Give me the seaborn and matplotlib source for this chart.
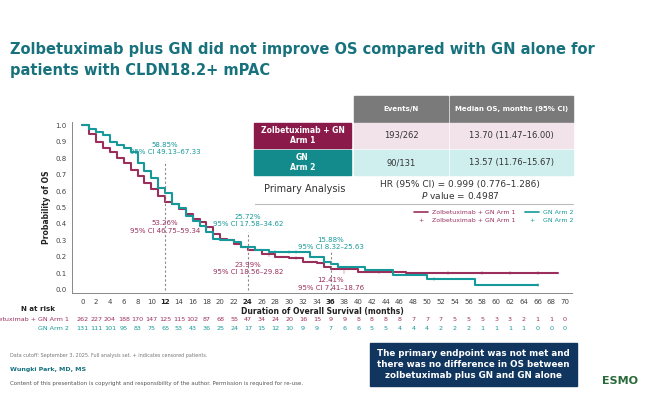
import matplotlib
matplotlib.use("Agg")
import matplotlib.pyplot as plt
import seaborn as sns
import pandas as pd
from matplotlib.patches import Rectangle
from matplotlib.lines import Line2D
import matplotlib.transforms as mtransforms

# data
arm1_t = [0, 1, 2, 3, 4, 5, 6, 7, 8, 9, 10, 11, 12, 13, 14, 15, 16, 17, 18, 19, 20, 21, 22, 23, 24,
          26, 28, 30, 32, 34, 35, 36, 40, 47, 69]
arm1_s = [1.0, 0.95, 0.90, 0.86, 0.84, 0.80, 0.77, 0.73, 0.69, 0.65, 0.61, 0.57, 0.533, 0.52, 0.49,
          0.46, 0.43, 0.41, 0.38, 0.34, 0.31, 0.30, 0.28, 0.26, 0.24,
          0.22, 0.20, 0.19, 0.17, 0.16, 0.14, 0.124, 0.11, 0.10, 0.10]
arm2_t = [0, 1, 2, 3, 4, 5, 6, 7, 8, 9, 10, 11, 12, 13, 14, 15, 16, 17, 18, 19, 20, 22, 23, 24,
          25, 27, 32, 33, 35, 36, 37, 41, 45, 50, 57, 66]
arm2_s = [1.0, 0.98, 0.96, 0.94, 0.90, 0.88, 0.86, 0.84, 0.77, 0.72, 0.68, 0.62, 0.589, 0.52, 0.50,
          0.45, 0.42, 0.39, 0.35, 0.31, 0.30, 0.29, 0.26, 0.257,
          0.24, 0.23, 0.23, 0.20, 0.17, 0.159, 0.14, 0.12, 0.09, 0.065, 0.03, 0.03]
cens1_t = [27, 31, 38, 43, 53, 58, 62, 66]
cens1_s = [0.21, 0.19, 0.11, 0.105, 0.10, 0.10, 0.10, 0.10]
cens2_t = [28, 30, 31, 51, 66]
cens2_s = [0.23, 0.23, 0.23, 0.065, 0.03]

risk_times = list(range(0, 72, 2))
risk_arm1 = [262, 227, 204, 188, 170, 147, 125, 115, 102, 87, 68, 55, 47, 34, 24, 20, 16, 15,
             9, 9, 8, 8, 8, 8, 7, 7, 7, 5, 5, 5, 3, 3, 2, 1, 1, 0]
risk_arm2 = [131, 111, 101, 95, 83, 75, 65, 53, 43, 36, 25, 24, 17, 15, 12, 10, 9, 9,
             7, 6, 6, 5, 5, 4, 4, 4, 2, 2, 2, 1, 1, 1, 1, 0, 0, 0]

maroon = "#9b2f5c"
teal = "#16999a"
navy = "#10355f"

sns.set_style("white")
fig = plt.figure(figsize=(6.5, 4.03), dpi=100)

def px(x, y):
    return x / 650, 1 - y / 403

ax = fig.add_axes([72 / 650, 1 - 293 / 403, 500 / 650, 171 / 403])

df1 = pd.DataFrame({"t": arm1_t, "s": arm1_s})
df2 = pd.DataFrame({"t": arm2_t, "s": arm2_s})
sns.lineplot(data=df1, x="t", y="s", drawstyle="steps-post", estimator=None, color=maroon, lw=1.5, ax=ax)
sns.lineplot(data=df2, x="t", y="s", drawstyle="steps-post", estimator=None, color=teal, lw=1.5, ax=ax)
sns.scatterplot(x=cens1_t, y=cens1_s, marker="|", color=maroon, s=12, ax=ax)
sns.scatterplot(x=cens2_t, y=cens2_s, marker="|", color=teal, s=12, ax=ax)

for xv, top in [(12, 0.78), (24, 0.35), (36, 0.24)]:
    ax.plot([xv, xv], [0, top], ls=(0, (2, 2)), color="#888888", lw=0.8)

ax.set_xlim(-1.5, 71)
ax.set_ylim(-0.02, 1.02)
ax.set_xticks(risk_times)
ax.set_xticklabels([str(t) for t in risk_times], fontsize=5, color="#444444")
for lab in ax.get_xticklabels():
    if lab.get_text() in ("12", "24", "36"):
        lab.set_fontweight("bold")
        lab.set_color("#222222")
ax.set_yticks([i / 10 for i in range(11)])
ax.set_yticklabels([f"{i / 10:.1f}" for i in range(11)], fontsize=5, color="#444444")
ax.tick_params(length=2, pad=2)
ax.set_xlabel("Duration of Overall Survival (months)", fontsize=5.5, fontweight="bold", labelpad=2, color="#222222")
ax.set_ylabel("Probability of OS", fontsize=5.5, fontweight="bold", labelpad=3, color="#222222")
for side in ("top", "right"):
    ax.spines[side].set_visible(False)
for side in ("left", "bottom"):
    ax.spines[side].set_color("#888888")
    ax.spines[side].set_linewidth(0.7)

ann = [(12, 0.86, "58.85%\n95% CI 49.13\u201367.33", teal),
       (12, 0.38, "53.26%\n95% CI 46.75\u201359.34", maroon),
       (24, 0.42, "25.72%\n95% CI 17.58\u201334.62", teal),
       (24, 0.13, "23.99%\n95% CI 18.56\u201329.82", maroon),
       (36, 0.28, "15.88%\n95% CI 8.32\u201325.63", teal),
       (36, 0.035, "12.41%\n95% CI 7.41\u201318.76", maroon)]
for xv, yv, txt, c in ann:
    ax.text(xv, yv, txt, ha="center", va="center", fontsize=5, color=c, linespacing=1.3)

# number at risk
tr = mtransforms.blended_transform_factory(ax.transData, ax.transAxes)
ax.text(-4, -0.105, "N at risk", transform=tr, fontsize=5, fontweight="bold", ha="right", color="#222222")
ax.text(-2, -0.155, "Zolbetuximab + GN Arm 1", transform=tr, fontsize=4.6, ha="right", va="center", color=maroon)
ax.text(-2, -0.205, "GN Arm 2", transform=tr, fontsize=4.6, ha="right", va="center", color=teal)
for t, a, b in zip(risk_times, risk_arm1, risk_arm2):
    ax.text(t, -0.155, str(a), transform=tr, fontsize=4.6, ha="center", va="center", color=maroon)
    ax.text(t, -0.205, str(b), transform=tr, fontsize=4.6, ha="center", va="center", color=teal)

# title
fig.text(*px(10, 60), "Zolbetuximab plus GN did not improve OS compared with GN alone for\npatients with CLDN18.2+ mPAC",
         fontsize=10.5, fontweight="bold", color="#17727d", va="center", linespacing=1.55)

# table
def cell(x0, y0, x1, y1, color, text, tcolor, bold=False, fs=6):
    fig.patches.append(Rectangle(px(x0, y1), (x1 - x0) / 650, (y1 - y0) / 403,
                                 transform=fig.transFigure, color=color, zorder=3))
    fig.text(*px((x0 + x1) / 2, (y0 + y1) / 2), text, ha="center", va="center", fontsize=fs,
             color=tcolor, fontweight="bold" if bold else "normal", zorder=4, linespacing=1.2)

cell(354, 96, 448, 122, "#7a7a7a", "Events/N", "white", True, 5)
cell(450, 96, 573, 122, "#7a7a7a", "Median OS, months (95% CI)", "white", True, 5)
cell(254, 123, 351, 148, "#8a1a4a", "Zolbetuximab + GN\nArm 1", "white", True, 5.5)
cell(354, 123, 448, 148, "#f2e2ea", "193/262", "#333333")
cell(450, 123, 573, 148, "#f2e2ea", "13.70 (11.47\u201316.00)", "#333333")
cell(254, 150, 351, 175, "#138a8c", "GN\nArm 2", "white", True, 5.5)
cell(354, 150, 448, 175, "#cfeeee", "90/131", "#333333")
cell(450, 150, 573, 175, "#cfeeee", "13.57 (11.76\u201315.67)", "#333333")
fig.text(*px(305, 189), "Primary Analysis", ha="center", va="center", fontsize=7, color="#333333")
fig.text(*px(460, 185), "HR (95% CI) = 0.999 (0.776\u20131.286)", ha="center", va="center", fontsize=6.5, color="#333333")
fig.text(*px(460, 196), "$P$ value = 0.4987", ha="center", va="center", fontsize=6.5, color="#333333")
fig.add_artist(Line2D([255 / 650, 573 / 650], [1 - 204 / 403] * 2, color="#bbbbbb", lw=0.8))

# legend
for x0, y0, c, lab, mk in [(414, 212, maroon, "Zolbetuximab + GN Arm 1", False),
                           (414, 220, maroon, "Zolbetuximab + GN Arm 1", True),
                           (525, 212, teal, "GN Arm 2", False),
                           (525, 220, teal, "GN Arm 2", True)]:
    if mk:
        fig.text(*px(x0 + 7, y0), "+", ha="center", va="center", fontsize=4.5, color=c)
    else:
        fig.add_artist(Line2D([x0 / 650, (x0 + 14) / 650], [1 - y0 / 403] * 2, color=c, lw=1.2))
    fig.text(*px(x0 + 18, y0), lab, va="center", fontsize=4.5, color=c)

# footer
fig.text(*px(10, 355), "Data cutoff: September 3, 2025. Full analysis set. + indicates censored patients.",
         fontsize=3.5, color="#777777", va="center")
fig.text(*px(10, 369), "Wungki Park, MD, MS", fontsize=4.5, fontweight="bold", color="#17727d", va="center")
fig.text(*px(10, 383), "Content of this presentation is copyright and responsibility of the author. Permission is required for re-use.",
         fontsize=4, color="#555555", va="center")
fig.patches.append(Rectangle(px(370, 386), 207 / 650, 43 / 403, transform=fig.transFigure,
                             color=navy, zorder=3))
fig.text(*px(473, 364.5), "The primary endpoint was not met and\nthere was no difference in OS between\nzolbetuximab plus GN and GN alone",
         ha="center", va="center", fontsize=6.3, fontweight="bold", color="white", zorder=4, linespacing=1.3)
fig.text(*px(620, 381), "ESMO", ha="center", va="center", fontsize=8, fontweight="bold", color="#2a6a3a")

fig.savefig("out.png", dpi=100)
